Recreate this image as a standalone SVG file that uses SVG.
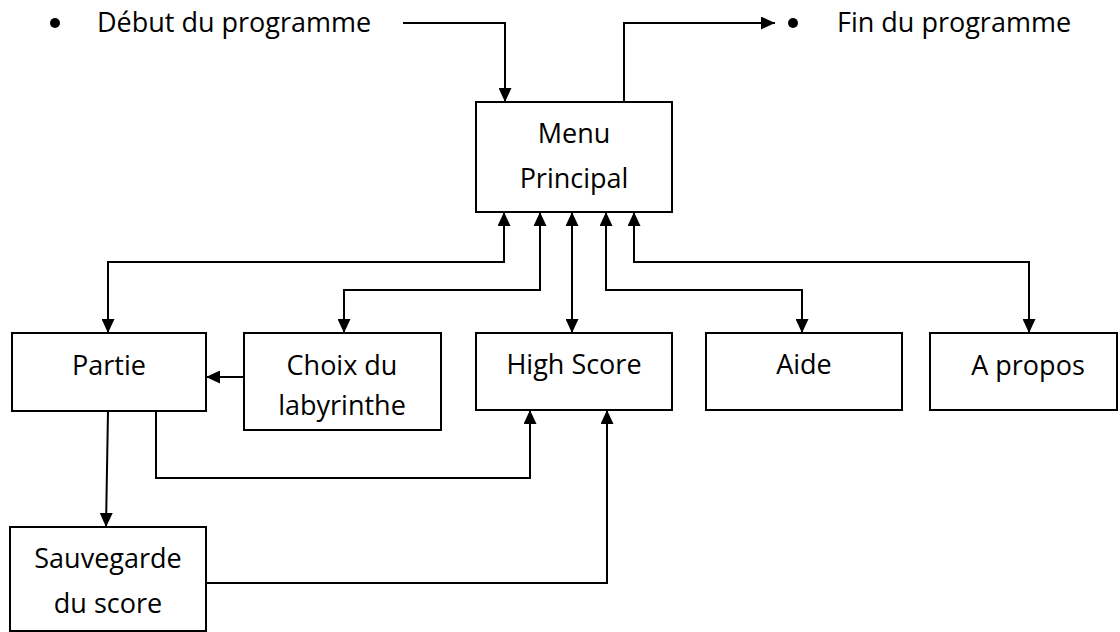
<svg xmlns="http://www.w3.org/2000/svg" width="1120" height="632" viewBox="0 0 1120 632">
<style>
.box{fill:#fff;stroke:#000;stroke-width:2}
.lbl{font-family:"Open Sans","Liberation Sans",sans-serif;font-size:27px;fill:#000;text-anchor:middle}
.txt{font-family:"Open Sans","Liberation Sans",sans-serif;font-size:27px;fill:#000}
.con{fill:none;stroke:#000;stroke-width:2}
</style>
<defs>
<marker id="arr" markerUnits="userSpaceOnUse" markerWidth="14" markerHeight="13" refX="14" refY="6.5" orient="auto-start-reverse" viewBox="0 0 14 13">
<path d="M0,0 L14,6.5 L0,13 z" fill="#000"/>
</marker>
</defs>
<rect width="1120" height="632" fill="#fff"/>
<g id="start">
<circle cx="55" cy="23" r="5" fill="#000"/>
<text class="txt" x="97" y="32">Début du programme</text>
</g>
<g id="end">
<circle cx="793" cy="23" r="5" fill="#000"/>
<text class="txt" x="837" y="32">Fin du programme</text>
</g>
<g id="menu">
<rect class="box" x="476" y="102" width="196" height="110"/>
<text class="lbl" x="574" y="143">Menu</text>
<text class="lbl" x="574" y="188">Principal</text>
</g>
<g id="partie">
<rect class="box" x="12" y="333" width="194" height="78"/>
<text class="lbl" x="109" y="375">Partie</text>
</g>
<g id="choix">
<rect class="box" x="244" y="333" width="197" height="97"/>
<text class="lbl" x="342" y="375">Choix du</text>
<text class="lbl" x="342" y="415">labyrinthe</text>
</g>
<g id="highscore">
<rect class="box" x="476" y="333" width="196" height="77"/>
<text class="lbl" x="574" y="374">High Score</text>
</g>
<g id="aide">
<rect class="box" x="706" y="333" width="196" height="77"/>
<text class="lbl" x="804" y="374">Aide</text>
</g>
<g id="apropos">
<rect class="box" x="930" y="333" width="187" height="77"/>
<text class="lbl" x="1028" y="375">A propos</text>
</g>
<g id="sauvegarde">
<rect class="box" x="10" y="527" width="196" height="104"/>
<text class="lbl" x="108" y="568">Sauvegarde</text>
<text class="lbl" x="108" y="613">du score</text>
</g>
<g id="connectors">
<path class="con" d="M403,23 H505 V102" marker-end="url(#arr)"/>
<path class="con" d="M624,102 V23 H775" marker-end="url(#arr)"/>
<path class="con" d="M504,212 V262 H108 V333" marker-start="url(#arr)" marker-end="url(#arr)"/>
<path class="con" d="M540,212 V290 H344 V333" marker-start="url(#arr)" marker-end="url(#arr)"/>
<path class="con" d="M572,212 V333" marker-start="url(#arr)" marker-end="url(#arr)"/>
<path class="con" d="M606,212 V290 H802 V333" marker-start="url(#arr)" marker-end="url(#arr)"/>
<path class="con" d="M634,212 V262 H1029 V333" marker-start="url(#arr)" marker-end="url(#arr)"/>
<path class="con" d="M244,377 H206" marker-end="url(#arr)"/>
<path class="con" d="M108,411 L106,527" marker-end="url(#arr)"/>
<path class="con" d="M156,411 V478 H530 V410" marker-end="url(#arr)"/>
<path class="con" d="M206,583 H607 V410" marker-end="url(#arr)"/>
</g>
</svg>
